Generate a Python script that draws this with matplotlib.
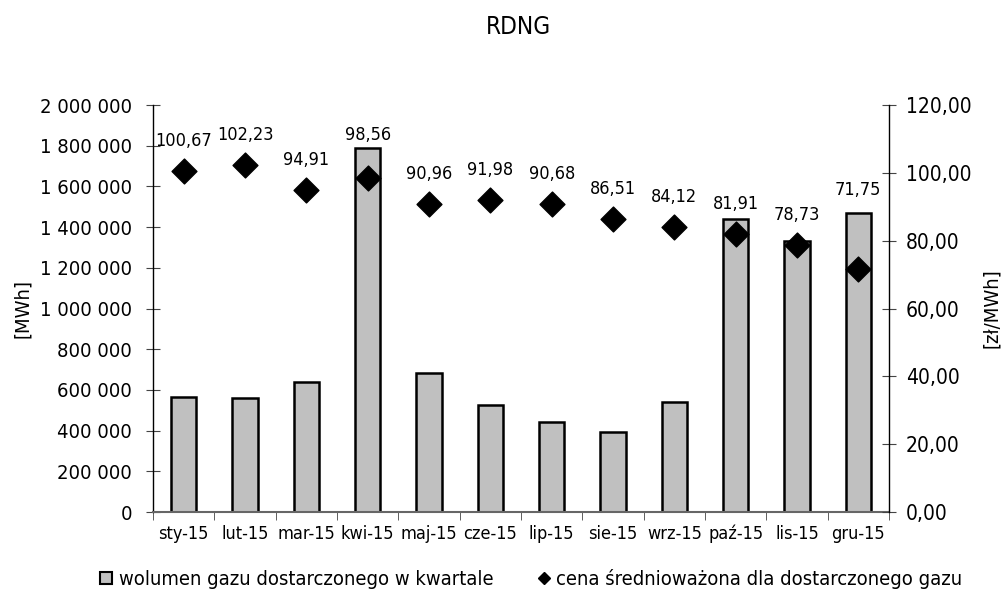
import matplotlib
matplotlib.use("Agg")
import matplotlib.pyplot as plt
from matplotlib.ticker import FuncFormatter, FixedLocator
from matplotlib.lines import Line2D
import numpy as np

months = ["sty-15", "lut-15", "mar-15", "kwi-15", "maj-15", "cze-15",
          "lip-15", "sie-15", "wrz-15", "paź-15", "lis-15", "gru-15"]
volume = [566000, 559000, 640000, 1790000, 681000, 526000,
          444000, 392000, 542000, 1438000, 1332000, 1471000]
price = [100.67, 102.23, 94.91, 98.56, 90.96, 91.98,
         90.68, 86.51, 84.12, 81.91, 78.73, 71.75]

plt.rcParams['font.family'] = ['DejaVu Sans']
plt.rcParams['font.stretch'] = 'condensed'

fig = plt.figure(figsize=(10.02, 5.92), dpi=100)
ax = fig.add_axes([0.1527, 0.1351, 0.7345, 0.6875])
x = np.arange(len(months))

ax.bar(x, volume, width=0.41, color="#c0c0c0", edgecolor="black", linewidth=1.8, zorder=2)
ax.set_xlim(-0.5, len(months) - 0.5)
ax.set_ylim(0, 2000000)
ax.set_yticks(np.arange(0, 2000001, 200000))
ax.yaxis.set_major_formatter(FuncFormatter(lambda v, p: f"{int(v):,}".replace(",", " ")))
ax.set_xticks(x)
ax.set_xticklabels(months, fontsize=13)
ax.xaxis.set_minor_locator(FixedLocator(np.arange(-0.5, len(months), 1.0)))
ax.tick_params(axis="x", which="major", length=0, pad=9)
ax.tick_params(axis="x", which="minor", length=6, direction="out", color="#444444")
ax.tick_params(axis="y", length=10, direction="inout", labelsize=14.5, pad=10, color="#444444")
ax.set_ylabel("[MWh]", fontsize=14.5, labelpad=6)
for s in ["top", "right"]:
    ax.spines[s].set_visible(False)
ax.spines["left"].set_linewidth(1.0)
ax.spines["bottom"].set_color("#666666")
ax.spines["bottom"].set_linewidth(1.5)

ax2 = ax.twinx()
ax2.set_ylim(0, 120)
ax2.set_yticks(np.arange(0, 121, 20))
ax2.yaxis.set_major_formatter(FuncFormatter(lambda v, p: f"{v:.2f}".replace(".", ",")))
ax2.tick_params(axis="y", length=10, direction="inout", labelsize=15, pad=7, color="#444444")
ax2.set_ylabel("[zł/MWh]", fontsize=14.5, labelpad=8)
for s in ["top", "left", "bottom"]:
    ax2.spines[s].set_visible(False)
ax2.spines["right"].set_linewidth(1.0)
ax2.scatter(x, price, marker="D", s=160, color="black", zorder=3)

# value labels sit just above the diamonds, or above the bar where the bar is taller
label_base = {3: 109.7, 11: 93.5}
for i, (xi, p) in enumerate(zip(x, price)):
    txt = f"{p:.2f}".replace(".", ",")
    if i in label_base:
        ax2.text(xi, label_base[i], txt, ha="center", va="baseline", fontsize=13)
    else:
        ax2.annotate(txt, (xi, p), xytext=(0, 18), textcoords="offset points",
                     ha="center", va="baseline", fontsize=13)

fig.text(0.517, 0.954, "RDNG", ha="center", va="center", fontsize=17.5)

handles = [Line2D([], [], marker="s", markersize=8, markerfacecolor="#c0c0c0",
                  markeredgecolor="black", markeredgewidth=1.5, linestyle="none"),
           Line2D([], [], marker="D", color="black", linestyle="none", markersize=6)]
fig.legend(handles, ["wolumen gazu dostarczonego w kwartale",
                     "cena średnioważona dla dostarczonego gazu"],
           loc="center", bbox_to_anchor=(0.53, 0.022), ncol=2, frameon=False,
           fontsize=14.5, handlelength=0.6, handletextpad=0.3, columnspacing=2.2,
           borderpad=0, borderaxespad=0)

fig.savefig("out.png", dpi=100)
